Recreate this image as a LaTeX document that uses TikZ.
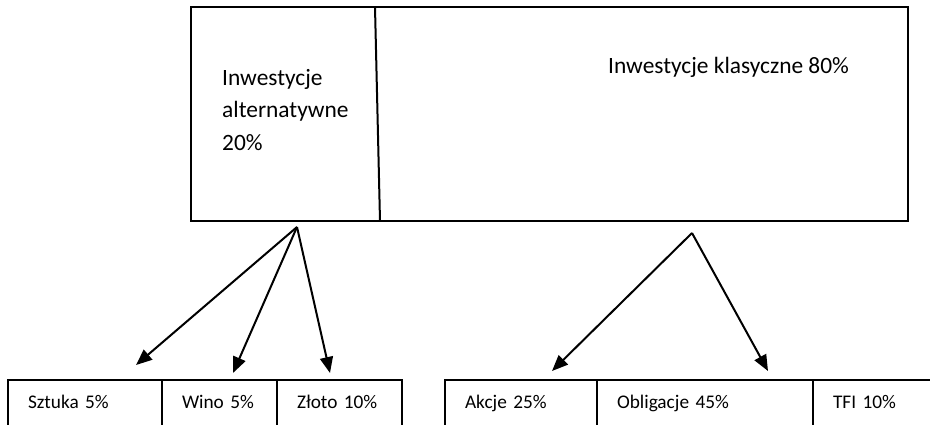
\documentclass[tikz,border=0pt]{standalone}
\usepackage{fontspec}
\setmainfont{Carlito}
\usetikzlibrary{calc,arrows.meta}

\tikzset{
  frame/.style={draw,line width=2pt,inner sep=0pt,outer sep=0pt},
  cell/.style={draw,line width=2pt,anchor=north west,align=left,outer sep=0pt,
    inner xsep=20pt,inner ysep=14pt,text height=14pt,text depth=40pt,
    font=\fontsize{19.3}{24}\selectfont},
  lbl/.style={inner sep=0pt,align=left},
  arr/.style={-{Triangle[length=16pt,width=13pt]},line width=2pt}
}

\begin{document}
\begin{tikzpicture}[x=1pt,y=-1pt,font=\fontsize{23.4}{32.5}\selectfont]
  \useasboundingbox (0,0) rectangle (930,424);
  \clip (0,0) rectangle (930,424);
  % upper box
  \node[frame,anchor=north west,minimum width=717pt,minimum height=214pt] (top) at (191,7) {};
  \draw[line width=2pt] ([xshift=184pt]top.north west) -- ([xshift=189pt]top.south west);
  \node[lbl,anchor=base west] (alt) at (222,150) {Inwestycje\\alternatywne\\20\%};
  \node[lbl,anchor=base west] (klas) at (608,73) {Inwestycje klasyczne 80\%};
  % lower boxes
  \node[cell,text width=114pt] (szt) at (8,380) {\mbox{Sztuka 5\%}};
  \node[cell,text width=75pt] (wino) at (szt.north east) {\mbox{Wino 5\%}};
  \node[cell,text width=85pt] (zloto) at (wino.north east) {\mbox{Złoto 10\%}};
  \node[cell,text width=112pt] (akcje) at (445,380) {\mbox{Akcje 25\%}};
  \node[cell,text width=176pt] (oblig) at (akcje.north east) {\mbox{Obligacje 45\%}};
  \node[cell,text width=110pt] (tfi) at (oblig.north east) {\mbox{TFI 10\%}};
  % arrows
  \coordinate (altfoot) at ([shift={(106pt,-6pt)}]top.south west);
  \coordinate (klasfoot) at ([shift={(501pt,-12pt)}]top.south west);
  \coordinate (t1) at ([shift={(51pt,15pt)}]szt.north);
  \coordinate (t2) at ([shift={(13.5pt,7pt)}]wino.north);
  \coordinate (t3) at ([shift={(-9.5pt,7pt)}]zloto.north);
  \coordinate (t4) at ([shift={(31pt,9pt)}]akcje.north);
  \coordinate (t5) at ([shift={(63pt,9pt)}]oblig.north);
  \foreach \t in {t1,t2,t3} \draw[arr] (altfoot) -- (\t);
  \foreach \t in {t4,t5} \draw[arr] (klasfoot) -- (\t);
\end{tikzpicture}
\end{document}
